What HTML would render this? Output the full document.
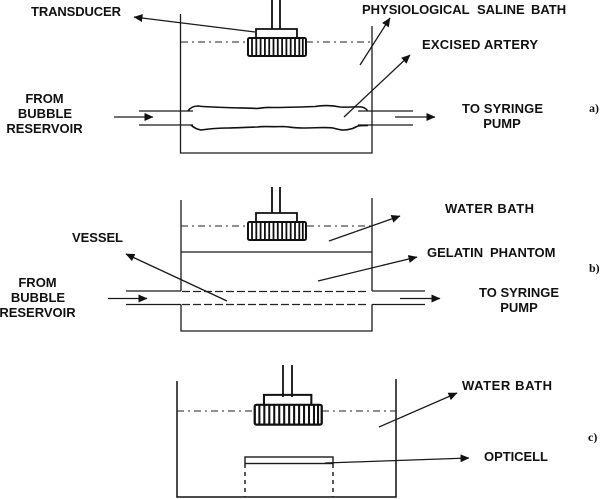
<!DOCTYPE html>
<html>
<head>
<meta charset="utf-8">
<style>
html,body{margin:0;padding:0;background:#fff;width:600px;height:499px;overflow:hidden}
svg{display:block;filter:blur(0.35px)}
text{font-family:"Liberation Sans",sans-serif;font-weight:bold;font-size:13px;fill:#111}
.s{font-family:"Liberation Serif",serif;font-size:12px}
.l{stroke:#1a1a1a;stroke-width:1.3;fill:none}
.d{stroke:#222;stroke-width:1;fill:none;stroke-dasharray:7 4 2 4}
.h{stroke:#222;stroke-width:1.2;fill:none;stroke-dasharray:8 3}
.t{stroke:#111;stroke-width:1.8;fill:none}
.a{stroke:#1a1a1a;stroke-width:1.3;fill:none;marker-end:url(#ah)}
</style>
</head>
<body>
<svg width="600" height="499" viewBox="0 0 600 499" xmlns="http://www.w3.org/2000/svg">
<defs>
<marker id="ah" markerUnits="userSpaceOnUse" markerWidth="11" markerHeight="9" refX="8.500" refY="4" orient="auto">
<path d="M0 0L9 4L0 8Z" fill="#111"/>
</marker>
<g id="probe">
<rect x="248" y="38" width="58" height="18" rx="1.500" fill="#fff" stroke="#111" stroke-width="2"/>
<path d="M252 38V56M256.300 38V56M260.600 38V56M264.900 38V56M269.200 38V56M273.500 38V56M277.800 38V56M282.100 38V56M286.400 38V56M290.700 38V56M295 38V56M299.300 38V56M302.800 38V56" stroke="#111" stroke-width="1.800" fill="none"/>
<path class="t" d="M256 38V29H297V38"/>
</g>
</defs>

<!-- panel a -->
<path class="l" d="M180.500 14V153H372V26"/>
<path class="d" d="M181 42H248M306 42H372"/>
<use href="#probe"/>
<path class="t" d="M272 29V0M280 29V0"/>
<path class="l" d="M139 111H193M139 125H193M358 111H413M358 125H413"/>
<path d="M188 111C190 108 193 106 198 106C205 107 215 107 225 107.500C238 108 250 108 257 108.500C262 108 266 107 272 107.500C285 107.500 300 107 315 106.500C325 105 333 105.500 340 107C348 107.500 356 106.500 362 107C365 108 367 109 367 110.500M191 125C193 127 196 129 201 130C208 129 215 128 228 128C238 128 250 127 258 127C262 126 268 127 283 126.500C290 127 295 128 303 128C315 128 325 127 333 128C337 129 340 130 343 130C350 130 354 128 358 126C362 125.500 365 125.500 368 125.500" stroke="#111" stroke-width="1.600" fill="none"/>
<path class="a" d="M114 117H153"/>
<path class="a" d="M395 117H435"/>
<path class="a" d="M255 32L134 17"/>
<path class="a" d="M360 65L390 18"/>
<path class="a" d="M344 117L410 55"/>

<!-- panel b -->
<path class="l" d="M181 200V291M181 304.500V331H372V304.500M372 291V198"/>
<path class="l" d="M181 252H372"/>
<path class="d" d="M181 226H248M307 226H372"/>
<use href="#probe" y="184"/>
<path class="t" d="M272 213V187M280 213V187"/>
<path class="l" d="M126 291H181M126 304.500H181M372 291H425M372 304.500H425"/>
<path class="h" d="M182 291.500H368M182 304.500H368"/>
<path class="a" d="M108 298.500H147"/>
<path class="a" d="M400 298.500H440"/>
<path class="a" d="M227 301L126 254"/>
<path class="a" d="M329 241L400 216"/>
<path class="a" d="M318 281L417 257"/>

<!-- panel c -->
<path class="t" style="stroke-width:1.500" d="M177 381V497H396V379"/>
<path class="d" d="M177 411H255M322 411H396"/>
<g transform="translate(-31.700 363) scale(1.155 1.1)"><use href="#probe"/></g>
<path class="t" d="M283 397V365M292 397V365"/>
<rect x="245" y="457" width="88" height="6.500" fill="#fff" stroke="#1a1a1a" stroke-width="1.400"/>
<path class="h" style="stroke-dasharray:4 4;stroke-width:1.500" d="M245 464V497M333 464V497"/>
<path class="a" d="M325 463L469 458"/>
<path class="a" d="M379 427L457 393"/>

<!-- labels -->
<text x="31" y="16" textLength="90" lengthAdjust="spacing">TRANSDUCER</text>
<text y="14"><tspan x="362">PHYSIOLOGICAL</tspan> <tspan x="477">SALINE</tspan> <tspan x="531">BATH</tspan></text>
<text x="422" y="49" textLength="116" lengthAdjust="spacing">EXCISED ARTERY</text>
<text x="44.500" y="103" text-anchor="middle">FROM</text>
<text x="45" y="118" text-anchor="middle">BUBBLE</text>
<text x="44.500" y="133" text-anchor="middle">RESERVOIR</text>
<text x="462" y="113" textLength="81" lengthAdjust="spacing">TO SYRINGE</text>
<text x="502" y="128" text-anchor="middle">PUMP</text>
<text class="s" x="589" y="112">a)</text>

<text x="445" y="213" textLength="89" lengthAdjust="spacing">WATER BATH</text>
<text y="257"><tspan x="427">GELATIN</tspan> <tspan x="490">PHANTOM</tspan></text>
<text x="72" y="242" textLength="51" lengthAdjust="spacing">VESSEL</text>
<text x="37.500" y="287" text-anchor="middle">FROM</text>
<text x="38" y="302" text-anchor="middle">BUBBLE</text>
<text x="37.500" y="317" text-anchor="middle">RESERVOIR</text>
<text x="479" y="297" textLength="80" lengthAdjust="spacing">TO SYRINGE</text>
<text x="519" y="312" text-anchor="middle">PUMP</text>
<text class="s" x="589" y="272">b)</text>

<text x="462" y="390" textLength="90" lengthAdjust="spacing">WATER BATH</text>
<text x="484" y="461" textLength="64" lengthAdjust="spacing">OPTICELL</text>
<text class="s" x="588" y="441">c)</text>
</svg>
</body>
</html>
